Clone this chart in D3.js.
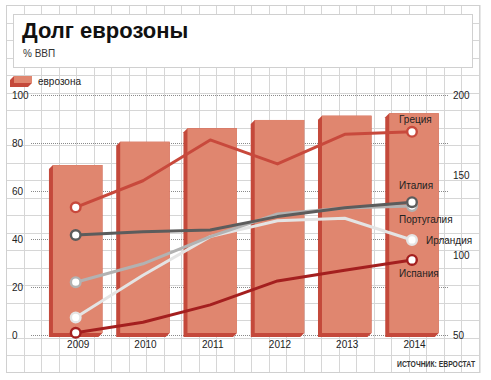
<!DOCTYPE html>
<html><head><meta charset="utf-8">
<script src="https://cdn.jsdelivr.net/npm/d3@7/dist/d3.min.js"></script>
<style>
body{margin:0;background:#fff;}
svg{display:block;font-family:"Liberation Sans",Arial,sans-serif;}
</style></head>
<body><svg id="c" width="491" height="380"></svg>
<script>
// ---- data ----
const years = ["2009","2010","2011","2012","2013","2014"];
const eurozone = [70.8, 80.5, 86.1, 89.6, 91.4, 92.4];
const greece   = [129.8, 146.4, 171.9, 156.9, 175.4, 177.0];
const italy    = [112.5, 114.6, 115.6, 124.0, 129.6, 133.0];
const portugal = [83.0, 94.5, 111.5, 125.6, 129.4, 130.6];
const ireland  = [61.0, 87.3, 111.5, 121.4, 123.0, 109.4];
const spain    = [51.4, 58.0, 68.8, 83.8, 90.5, 96.9];
const leftTicks = [0, 20, 40, 60, 80, 100];
const rightTicks = [50, 100, 150, 200];
const seriesNames = ["Греция","Италия","Португалия","Ирландия","Испания"];

// ---- styles / layout ----
const series = [
  {name: seriesNames[0], values: greece,   color: "#c8493c", lx: -13, ly: -9},
  {name: seriesNames[4], values: spain,    color: "#a41f1f", lx: -13, ly: 17},
  {name: seriesNames[3], values: ireland,  color: "#e4e4e4", lx: 14,  ly: 4},
  {name: seriesNames[2], values: portugal, color: "#b2b2b2", lx: -13, ly: 17},
  {name: seriesNames[1], values: italy,    color: "#5c5c5c", lx: -13, ly: -13}
];

const svg = d3.select("#c");

// background grid
const g0 = svg.append("g");
const gx0 = 6, gy0 = 5, gstep = 17.5, gx1 = 479.5, gy1 = 372;
for (let x = gx0; x <= gx1 + 0.1; x += gstep)
  g0.append("line").attr("x1", Math.round(x)+0.5).attr("x2", Math.round(x)+0.5).attr("y1", gy0).attr("y2", gy1)
    .attr("stroke", "#d6d6d6").attr("stroke-width", 1);
for (let y = gy0; y <= gy1 + 0.1; y += gstep)
  g0.append("line").attr("y1", Math.round(y)+0.5).attr("y2", Math.round(y)+0.5).attr("x1", gx0).attr("x2", gx1)
    .attr("stroke", "#d6d6d6").attr("stroke-width", 1);
g0.append("rect").attr("x", gx0+0.5).attr("y", gy0+0.5).attr("width", gx1-gx0).attr("height", gy1-gy0)
  .attr("fill", "none").attr("stroke", "#d0d0d0");

// title panel
svg.append("rect").attr("x", 13.5).attr("y", 14.5).attr("width", 459).attr("height", 53)
  .attr("fill", "#fff").attr("stroke", "#d0d0d0");
svg.append("text").attr("x", 22).attr("y", 38).attr("font-size", 22).attr("font-weight", "bold")
  .attr("fill", "#111").text("Долг еврозоны");
svg.append("text").attr("x", 23).attr("y", 57).attr("font-size", 10).attr("fill", "#333").text("% ВВП");

// scales
const x = d3.scalePoint().domain(years).range([77.7, 414]);
const yL = d3.scaleLinear().domain([0, 100]).range([335, 95]);
const yR = d3.scaleLinear().domain([50, 200]).range([335, 95]);

// dotted gridlines
svg.append("g").selectAll("line").data(leftTicks).join("line")
  .attr("x1", 31).attr("x2", 449)
  .attr("y1", d => Math.round(yL(d)) + 0.5).attr("y2", d => Math.round(yL(d)) + 0.5)
  .attr("stroke", "#8a8a8a").attr("stroke-width", 1).attr("stroke-dasharray", "1,1");

// left axis
const axL = svg.append("g").attr("transform", "translate(12,0)")
  .call(d3.axisLeft(yL).tickValues(leftTicks).tickSize(0).tickPadding(0));
axL.select(".domain").remove();
axL.selectAll("text").attr("text-anchor", "start").attr("x", 0)
  .attr("font-size", 10).attr("font-family", "Liberation Sans, Arial, sans-serif").attr("fill", "#222");

// right axis
const axR = svg.append("g").attr("transform", "translate(453,0)")
  .call(d3.axisRight(yR).tickValues(rightTicks).tickSize(0).tickPadding(0));
axR.select(".domain").remove();
axR.selectAll("text").attr("font-size", 10).attr("font-family", "Liberation Sans, Arial, sans-serif").attr("fill", "#222");

// 3D bar helper
const front = "#e0866f", side = "#c4493b", dx = -4, dy = 4;
function bar3d(g, x0, y0, w, h) {
  g.append("polygon").attr("points", [
    [x0 + dx, y0 + dy], [x0, y0], [x0 + w, y0], [x0 + w, y0 + h],
    [x0 + w + dx, y0 + h + dy], [x0 + dx, y0 + h + dy]
  ].map(p => p.join(",")).join(" ")).attr("fill", side);
  g.append("rect").attr("x", x0).attr("y", y0).attr("width", w).attr("height", h).attr("fill", front);
}

// bars
const gb = svg.append("g");
const bw = 49.5, base = yL(0) - 2;
years.forEach((yr, i) => {
  const top = yL(eurozone[i]);
  bar3d(gb, x(yr) - bw / 2, top, bw, base - top);
});

// legend
bar3d(svg.append("g"), 14, 76, 18, 7);
svg.append("text").attr("x", 38).attr("y", 84.5).attr("font-size", 10).attr("fill", "#222").text("еврозона");

// bottom axis
const axB = svg.append("g").attr("transform", "translate(0,341)")
  .call(d3.axisBottom(x).tickSize(0).tickPadding(0));
axB.select(".domain").remove();
axB.selectAll("text").attr("dy", "0.71em").attr("font-size", 10)
  .attr("font-family", "Liberation Sans, Arial, sans-serif").attr("fill", "#222");

// lines
const lx = d => x(d) - 2;
const line = d3.line().x((d, i) => lx(years[i])).y(d => yR(d));
const gl = svg.append("g");
series.forEach(s => {
  gl.append("path").datum(s.values).attr("d", line).attr("fill", "none")
    .attr("stroke", s.color).attr("stroke-width", 3).attr("stroke-linejoin", "round");
});
series.forEach(s => {
  const ends = [0, years.length - 1];
  ends.forEach(i => {
    gl.append("circle").attr("cx", lx(years[i])).attr("cy", yR(s.values[i])).attr("r", 4.8)
      .attr("fill", "#fff").attr("stroke", s.color).attr("stroke-width", 2.4);
  });
  const last = years.length - 1;
  gl.append("text").attr("x", lx(years[last]) + s.lx).attr("y", yR(s.values[last]) + s.ly)
    .attr("font-size", 10).attr("fill", "#222").text(s.name);
});

// source (condensed by horizontal scaling)
svg.append("g").attr("transform", "translate(397,366.5) scale(0.8,1)")
  .append("text").attr("x", 0).attr("y", 0).attr("font-size", 8.5).attr("font-weight", "bold")
  .attr("fill", "#333").text("ИСТОЧНИК: ЕВРОСТАТ");
</script></body></html>
